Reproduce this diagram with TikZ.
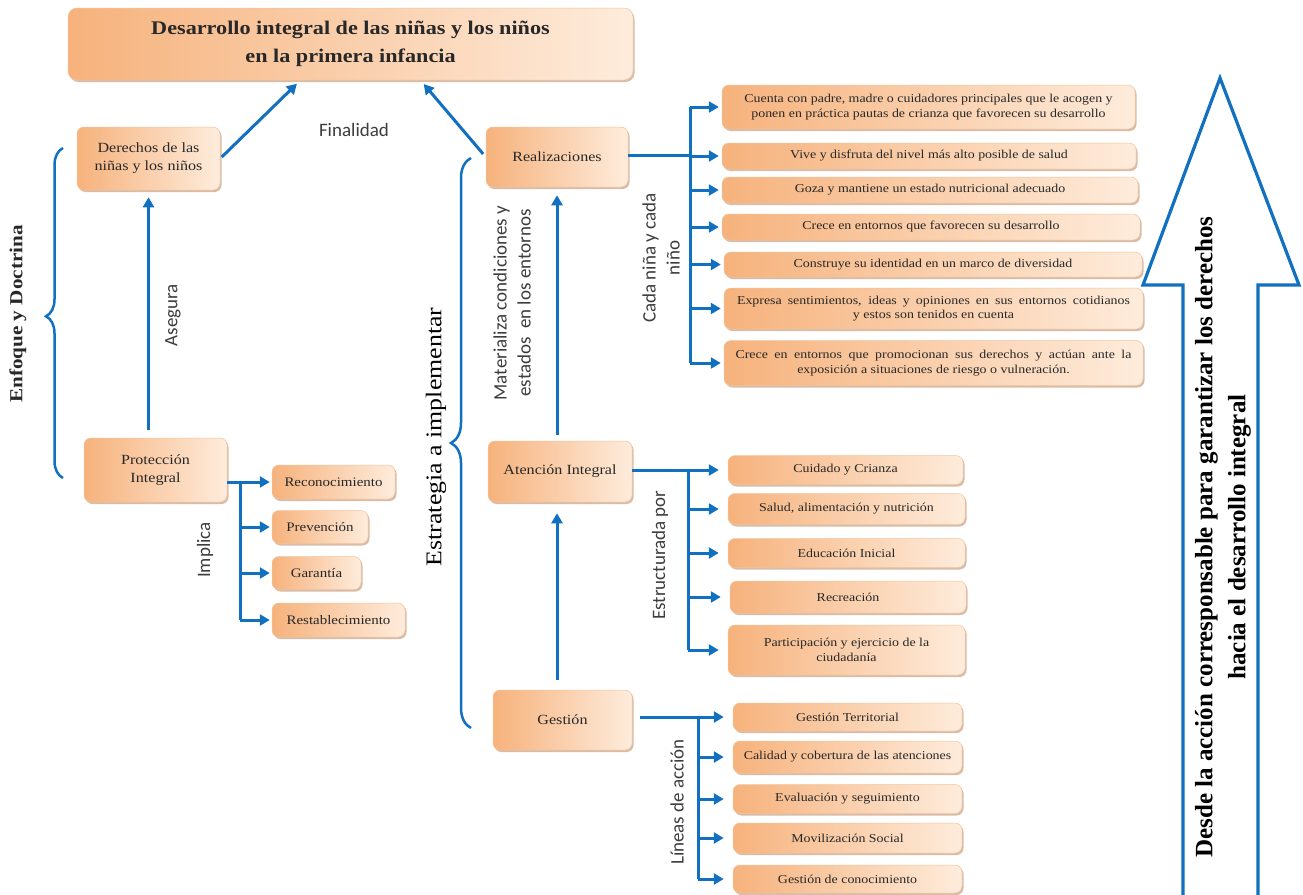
\documentclass[tikz,border=0pt]{standalone}
\usepackage{fontspec}
\usetikzlibrary{arrows.meta,shadows,decorations.pathreplacing}
\setmainfont{Liberation Serif}
\newfontfamily\camb[FakeStretch=1.15]{Liberation Serif}
\newfontfamily\calib{Carlito}
\definecolor{lineblue}{RGB}{18,112,192}
\definecolor{boxdark}{RGB}{246,178,124}
\definecolor{boxlight}{RGB}{254,236,220}
\definecolor{boxedge}{RGB}{242,196,156}
\definecolor{shadowc}{RGB}{200,160,130}
\definecolor{txt}{RGB}{40,40,40}
\tikzset{
  box/.style={rounded corners=7pt, draw=boxedge, line width=0.5pt,
    left color=boxdark, right color=boxlight,
    drop shadow={shadow xshift=1.5pt, shadow yshift=-2pt, fill=shadowc, opacity=0.7},
    inner sep=1pt, align=center, text=txt},
  mainbox/.style={box, font=\camb\fontsize{14}{18}\selectfont},
  leftbox/.style={box, font=\camb\fontsize{13}{15}\selectfont},
  itembox/.style={box, font=\camb\fontsize{12.1}{14.5}\selectfont},
  conn/.style={draw=lineblue, line width=3pt},
  arr/.style={conn, -{Triangle[length=10pt,width=11pt]}},
  bracestyle/.style={draw=lineblue, line width=2.5pt, decorate},
  lab/.style={font=\calib\fontsize{19}{24}\selectfont, text=txt!90!white, align=center},
}
\begin{document}
\begin{tikzpicture}[x=1pt,y=-1pt]
\useasboundingbox (0,0) rectangle (1303,894);
\fill[white] (0,0) rectangle (1303,894);

% title
\node[box, minimum width=565pt, minimum height=72pt, rounded corners=9pt,
  font=\camb\bfseries\fontsize{19.3}{28}\selectfont] (title) at (350.5,44)
  {Desarrollo integral de las niñas y los niños\\en la primera infancia};

% left column
\node[mainbox, minimum width=143pt, minimum height=63pt] (der) at (148.5,158.5)
  {Derechos de las\\niñas y los niños};
\node[mainbox, minimum width=143pt, minimum height=64pt] (prot) at (155.5,470)
  {Protección\\Integral};
\node[leftbox, minimum width=123pt, minimum height=34pt] (recon) at (333.5,482) {Reconocimiento};
\node[leftbox, minimum width=96pt, minimum height=33pt] (prev) at (320,527) {Prevención};
\node[leftbox, minimum width=89pt, minimum height=33pt] (gar) at (316.5,573) {Garantía};
\node[leftbox, minimum width=133pt, minimum height=34pt] (rest) at (338.5,620) {Restablecimiento};

% middle column
\node[mainbox, minimum width=142pt, minimum height=60pt] (real) at (557,157) {Realizaciones};
\node[mainbox, minimum width=144pt, minimum height=61pt] (aten) at (560,471.5) {Atención Integral};
\node[mainbox, minimum width=139pt, minimum height=60pt] (gest) at (562.5,720) {Gestión};

% realizaciones items
\node[itembox, minimum width=413pt, minimum height=44pt] (r1) at (928.5,107)
  {Cuenta con padre, madre o cuidadores principales que le acogen y\\ponen en práctica pautas de crianza que favorecen su desarrollo};
\node[itembox, minimum width=414pt, minimum height=26pt] (r2) at (929,156)
  {Vive y disfruta del nivel más alto posible de salud};
\node[itembox, minimum width=416pt, minimum height=26pt] (r3) at (930,190)
  {Goza y mantiene un estado nutricional adecuado};
\node[itembox, minimum width=418pt, minimum height=26pt] (r4) at (931,227)
  {Crece en entornos que favorecen su desarrollo};
\node[itembox, minimum width=418pt, minimum height=25pt] (r5) at (933,264.5)
  {Construye su identidad en un marco de diversidad};
\node[itembox, minimum width=419pt, minimum height=41pt] (r6) at (933.5,308.5)
  {\makebox[393pt][s]{Expresa sentimientos, ideas y opiniones en sus entornos cotidianos}\\y estos son tenidos en cuenta};
\node[itembox, minimum width=419pt, minimum height=45pt] (r7) at (933.5,363)
  {\makebox[396pt][s]{Crece en entornos que promocionan sus derechos y actúan ante la}\\exposición a situaciones de riesgo o vulneración.};

% atencion items
\node[itembox, minimum width=235pt, minimum height=29pt] (a1) at (845.5,470) {Cuidado y Crianza};
\node[itembox, minimum width=237pt, minimum height=31pt] (a2) at (846.5,509) {Salud, alimentación y nutrición};
\node[itembox, minimum width=237pt, minimum height=29pt] (a3) at (846.5,553) {Educación Inicial};
\node[itembox, minimum width=236pt, minimum height=32pt] (a4) at (848,597) {Recreación};
\node[itembox, minimum width=237pt, minimum height=50pt] (a5) at (846.5,650)
  {Participación y ejercicio de la\\ciudadanía};

% gestion items
\node[itembox, minimum width=229pt, minimum height=28pt] (g1) at (847.5,717) {Gestión Territorial};
\node[itembox, minimum width=229pt, minimum height=32pt] (g2) at (847.5,757) {Calidad y cobertura de las atenciones};
\node[itembox, minimum width=229pt, minimum height=29pt] (g3) at (847.5,799) {Evaluación y seguimiento};
\node[itembox, minimum width=229pt, minimum height=30pt] (g4) at (847.5,838) {Movilización Social};
\node[itembox, minimum width=229pt, minimum height=28pt] (g5) at (847.5,879) {Gestión de conocimiento};

% arrows to title
\draw[arr, shorten <=2pt, shorten >=5pt] (der.east) -- ([xshift=-50pt]title.south);
\draw[arr, shorten <=4pt, shorten >=5pt] (real.west) -- ([xshift=70pt]title.south);

% vertical arrows
\draw[arr, shorten <=8pt, shorten >=7pt] (prot.north -| der.south) -- (der.south);
\draw[arr, shorten <=6pt, shorten >=8pt] (aten.north -| real.south) -- (real.south);
\draw[arr, shorten <=10pt, shorten >=11pt] (gest.north -| real.south) -- (aten.south -| real.south);

% proteccion branch
\coordinate (pj) at (240,482);
\draw[conn] (prot.east |- pj) -- (pj);
\draw[conn] (pj |- recon.west) -- (pj |- rest.west);
\foreach \n in {recon,prev,gar,rest}
  \draw[arr, shorten >=2pt] (pj |- \n.west) -- (\n.west);

% realizaciones branch
\coordinate (rj) at (690,155);
\draw[conn] (real.east |- rj) -- (rj);
\draw[conn] (rj |- r1.west) -- (rj |- r7.west);
\foreach \n in {r1,r2,r3,r4,r5,r6,r7}
  \draw[arr, shorten >=3pt] (rj |- \n.west) -- (\n.west);

% atencion branch
\coordinate (aj) at (688,470);
\draw[conn] (aten.east |- aj) -- (aj);
\draw[conn] (aj |- a1.west) -- (aj |- a5.west);
\foreach \n in {a1,a2,a3,a4,a5}
  \draw[arr, shorten >=9pt] (aj |- \n.west) -- (\n.west);

% gestion branch
\coordinate (gj) at (698,717);
\draw[conn] ([xshift=8pt]gest.east |- gj) -- (gj);
\draw[conn] (gj |- g1.west) -- (gj |- g5.west);
\foreach \n in {g1,g2,g3,g4,g5}
  \draw[arr, shorten >=9pt] (gj |- \n.west) -- (\n.west);

% labels
\node[lab] (lfin) at (354,130) {Finalidad};
\node[lab, rotate=90] (lase) at (173,315) {Asegura};
\node[lab, rotate=90] (limp) at (205,550) {Implica};
\node[lab, rotate=90] (lmat) at (512,303) {Materializa condiciones y\\estados\ \ en los entornos};
\node[lab, rotate=90] (lcada) at (661,258) {Cada niña y cada\\niño};
\node[lab, rotate=90] (lest) at (660,555) {Estructurada por};
\node[lab, rotate=90] (llin) at (677,802) {Líneas de acción};

% braces
\coordinate (b1s) at (63,478);
\coordinate (b1e) at (63,148);
\draw[bracestyle, decoration={brace, amplitude=17pt, aspect=0.49}] (b1s) -- (b1e);
\node[rotate=90, font=\camb\bfseries\fontsize{18.4}{22}\selectfont, text=txt] (lenf) at (18,314) {Enfoque y Doctrina};
\coordinate (b2s) at (471,728);
\coordinate (b2e) at (471,158);
\draw[bracestyle, decoration={brace, amplitude=20pt, aspect=0.5}] (b2s) -- (b2e);
\node[rotate=90, font=\camb\fontsize{22.5}{26}\selectfont, text=black] (lestr) at (436,437) {Estrategia a implementar};

% big arrow
\draw[draw=lineblue, line width=3.2pt, fill=white, line join=miter]
  (1183,900) -- (1183,285) -- (1143,285) -- (1220,78) -- (1299,285) -- (1258,285) -- (1258,900);
\node[rotate=90, align=center, font=\bfseries\fontsize{25}{33}\selectfont, text=black] (lbig) at (1223,537)
  {Desde la acción corresponsable para garantizar los derechos\\hacia el desarrollo integral};
\end{tikzpicture}
\end{document}
